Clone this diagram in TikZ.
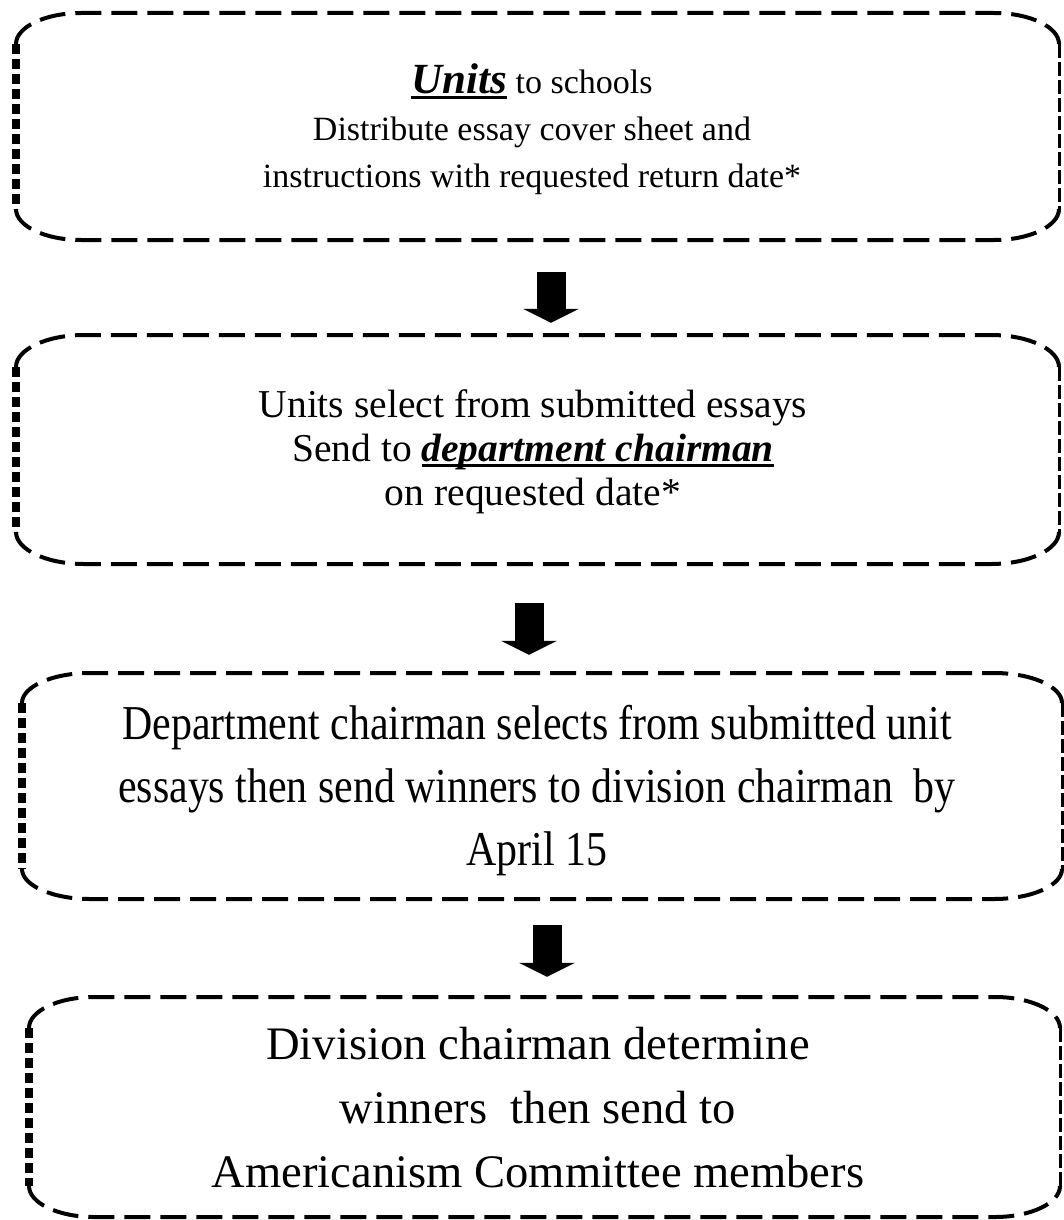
\documentclass[tikz,border=0pt]{standalone}
\usepackage{fontspec}
\setmainfont{Liberation Serif}
\newfontfamily\condfont[FakeStretch=0.86]{Liberation Serif}
\usetikzlibrary{arrows.meta}
\newcommand\ulx[1]{\leavevmode\setbox0\hbox{#1}\rlap{\rule[-0.13em]{\wd0}{0.07em}}\box0\relax}
% name, x0, y0, x1, y1, rx, ry
\newcommand\flowbox[7]{%
  \node[boxnode, minimum width={#4-#2}, minimum height={#5-#3}] (#1) at ({(#2+#4)/2},{(#3+#5)/2}) {};
  \draw[hdash] (#2,#3+#7) .. controls (#2,#3+0.45*#7) and (#2+0.45*#6,#3) .. (#2+#6,#3) -- (#4-#6,#3)
     .. controls (#4-0.45*#6,#3) and (#4,#3+0.45*#7) .. (#4,#3+#7);
  \draw[hdash] (#2,#5-#7) .. controls (#2,#5-0.45*#7) and (#2+0.45*#6,#5) .. (#2+#6,#5) -- (#4-#6,#5)
     .. controls (#4-0.45*#6,#5) and (#4,#5-0.45*#7) .. (#4,#5-#7);
  \draw[ldash] (#2,#3+#7) -- (#2,#5-#7);
  \draw[rdash] (#4,#3+#7) -- (#4,#5-#7);
}
\tikzset{
  boxnode/.style={draw=none, inner sep=0pt},
  hdash/.style={line width=4pt, dash pattern=on 26pt off 10pt},
  ldash/.style={line width=8pt, dash pattern=on 10pt off 5pt},
  rdash/.style={line width=3pt, dash pattern=on 14pt off 4pt},
  txt/.style={align=center, inner sep=0pt},
  bigarrow/.style={line width=29pt, -{Triangle[width=56pt,length=14pt,line width=0pt]}}
}
\begin{document}
\begin{tikzpicture}[x=1pt,y=-1pt]
\useasboundingbox[fill=white] (0,0) rectangle (1063,1220);

\flowbox{b1}{16}{13}{1059}{240}{65}{31}
\flowbox{b2}{16}{335}{1059}{564}{68}{32}
\flowbox{b3}{22}{673}{1062}{899}{68}{30}
\flowbox{b4}{29}{997}{1060}{1217}{65}{31}

\node[txt, font=\fontsize{34}{47}\selectfont] (t1) at (532,129)
  {{\fontsize{43}{47}\selectfont\ulx{\textbf{\textit{Units}}}} to schools\\Distribute essay cover sheet and\\instructions with requested return date*};
\node[txt, font=\fontsize{39.5}{44}\selectfont] (t2) at (533,452)
  {Units select from submitted essays\\Send to \ulx{\textbf{\textit{department chairman}}}\\on requested date*};
\node[txt, font=\condfont\fontsize{48.7}{63}\selectfont] (t3) at (537,791)
  {Department chairman selects from submitted unit\\essays then send winners to division chairman\ \ by\\April 15};
\node[txt, font=\fontsize{46.6}{64}\selectfont] (t4) at (538,1108)
  {Division chairman determine\\winners\ \ then send to\\Americanism Committee members};

\draw[bigarrow, shorten <=32pt, shorten >=12pt] ([xshift=13.5pt]b1.south) -- ([xshift=13.5pt]b2.north);
\draw[bigarrow, shorten <=39pt, shorten >=18pt] ([xshift=-8.5pt]b2.south) -- ([xshift=-13pt]b3.north);
\draw[bigarrow, shorten <=26pt, shorten >=20pt] ([xshift=5pt]b3.south) -- ([xshift=2.5pt]b4.north);
\end{tikzpicture}
\end{document}
